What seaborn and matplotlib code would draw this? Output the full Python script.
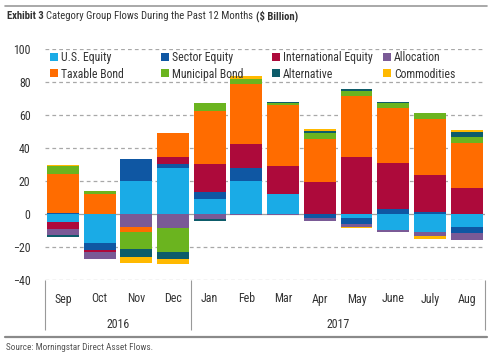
import numpy as np
import matplotlib
matplotlib.use('Agg')
import matplotlib.pyplot as plt
from matplotlib.patches import Patch
from matplotlib import font_manager
import seaborn as sns

# Monthly flows by category group ($ billion)
months = ['Sep', 'Oct', 'Nov', 'Dec', 'Jan', 'Feb', 'Mar', 'Apr', 'May', 'June', 'July', 'Aug']
years = ['2016', '2017']
us_equity = [-4.9, -17.8, 19.8, 27.7, 8.9, 20.0, 11.9, 0.0, -2.2, -9.5, -10.7, -8.1]
sector_equity = [0.4, -4.0, 13.7, 2.4, 4.4, 8.1, 0.0, -2.6, -3.8, 2.8, 1.2, -3.6]
international_equity = [-4.4, -1.4, 0.0, 4.6, 17.0, 14.3, 17.2, 19.6, 34.7, 28.3, 22.6, 15.6]
allocation = [-3.6, -3.9, -7.7, -8.7, -2.8, -0.8, -0.5, -1.6, -1.6, -1.4, -2.6, -4.1]
taxable_bond = [23.8, 11.9, -3.0, 14.6, 32.1, 36.4, 37.0, 26.0, 37.0, 33.0, 34.0, 27.2]
municipal_bond = [5.0, 2.2, -10.3, -14.1, 4.7, 2.8, 1.0, 3.5, 3.0, 3.1, 3.4, 4.0]
alternative = [-1.0, 0.0, -4.8, -4.4, -1.4, 0.0, 0.6, 1.5, 1.3, 0.8, 0.0, 2.7]
commodities = [0.6, 0.0, -4.0, -3.2, 0.0, 2.0, 0.0, 0.8, -0.6, 0.0, -2.0, 1.5]

flows = {
    'U.S. Equity': us_equity,
    'Sector Equity': sector_equity,
    'International Equity': international_equity,
    'Allocation': allocation,
    'Taxable Bond': taxable_bond,
    'Municipal Bond': municipal_bond,
    'Alternative': alternative,
    'Commodities': commodities,
}
palette = {
    'U.S. Equity': '#1aabe6',
    'Sector Equity': '#0f57a3',
    'International Equity': '#ad0a3b',
    'Allocation': '#7a5a96',
    'Taxable Bond': '#ff6c00',
    'Municipal Bond': '#6bb41f',
    'Alternative': '#0d5c6a',
    'Commodities': '#ffb900',
}

# stacking order differs above / below zero in the original
pos_order = ['U.S. Equity', 'Sector Equity', 'International Equity', 'Taxable Bond',
             'Municipal Bond', 'Alternative', 'Allocation', 'Commodities']
neg_order = ['U.S. Equity', 'Sector Equity', 'International Equity', 'Allocation',
             'Taxable Bond', 'Municipal Bond', 'Alternative', 'Commodities']

sns.set_theme(style='white')
# pick a condensed face if one is installed
installed = {f.name for f in font_manager.fontManager.ttflist}
narrow = [f for f in ['Roboto Condensed', 'Liberation Sans Narrow', 'Arial Narrow'] if f in installed]
plt.rcParams['font.family'] = narrow + ['Roboto', 'DejaVu Sans']
scale = 1.0 if narrow else 0.84

fig = plt.figure(figsize=(4.92, 3.55), dpi=100)
ax = fig.add_axes([44.5 / 492, 1 - 280 / 355, 440.5 / 492, 231 / 355])


def draw_stack(order, sign):
    cum = np.zeros(len(months))
    tops = []
    for name in order:
        v = np.array(flows[name])
        cum = cum + np.where(np.sign(v) == sign, v, 0.0)
        tops.append((name, cum.copy()))
    # draw tallest first so each lower segment sits on top of it
    for name, top in reversed(tops):
        sns.barplot(x=months, y=top, order=months, color=palette[name], saturation=1,
                    width=0.87, errorbar=None, linewidth=0, ax=ax, zorder=2)


draw_stack(pos_order, 1)
draw_stack(neg_order, -1)

ax.set_xlim(-0.5, 11.5)
ax.set_ylim(-40, 100)
ax.set_yticks(range(-40, 101, 20))
ax.set_xlabel('')
ax.set_ylabel('')
for s in ax.spines.values():
    s.set_visible(False)
for y in range(-40, 101, 20):
    if y == 0:
        ax.axhline(y, color='#a0a0a0', lw=0.9, zorder=1)
    else:
        ax.axhline(y, color='#a8a8a8', lw=0.9, ls=(0, (3, 2.5)), zorder=1)
tick_fs = 8.6 * scale
ax.tick_params(axis='y', length=0, pad=10, labelsize=tick_fs, labelcolor='#333333')
ax.tick_params(axis='x', length=0, pad=9, labelsize=tick_fs, labelcolor='#333333')

# year dividers and year labels under the month labels
div = ax.secondary_xaxis('bottom')
div.set_xticks([-0.5, 3.5, 11.5])
div.set_xticklabels([])
div.tick_params(length=36, width=0.8, color='#999999')
for s in div.spines.values():
    s.set_visible(False)

yr = ax.secondary_xaxis('bottom')
yr.set_xticks([1.5, 7.5])
yr.set_xticklabels(years)
yr.tick_params(length=0, pad=27, labelsize=tick_fs, labelcolor='#333333')
for s in yr.spines.values():
    s.set_visible(False)

# legend: four fixed-width columns of two entries
cols = [['U.S. Equity', 'Taxable Bond'], ['Sector Equity', 'Municipal Bond'],
        ['International Equity', 'Alternative'], ['Allocation', 'Commodities']]
col_x = [50, 161, 272, 383]
for i, (names, px) in enumerate(zip(cols, col_x)):
    handles = [Patch(facecolor=palette[n], edgecolor='none') for n in names]
    leg = ax.legend(handles, names, loc='upper left',
                    bbox_to_anchor=((px - 44.5) / 440.5, (280 - 51) / 231),
                    frameon=False, fontsize=8.5 * scale, handlelength=0.65, handleheight=0.65,
                    handletextpad=0.3, labelspacing=0.3, borderpad=0, borderaxespad=0)
    for t in leg.get_texts():
        t.set_color('#333333')
    if i < len(cols) - 1:
        ax.add_artist(leg)

# title built from bold and regular pieces
renderer = fig.canvas.get_renderer()
x = 7 / 492
for txt, weight in [('Exhibit 3 ', 'bold'), ('Category Group Flows During the Past 12 Months ', 'normal'),
                    ('($ Billion)', 'bold')]:
    t = fig.text(x, 1 - 16 / 355, txt, fontsize=7.7 * scale, fontweight=weight, color='#333333',
                 va='center', ha='left')
    bb = t.get_window_extent(renderer=renderer)
    x += bb.width / fig.bbox.width

fig.add_artist(plt.Line2D([5 / 492, 487 / 492], [1 - 6 / 355, 1 - 6 / 355], color='#9a9a9a', lw=1.2))
fig.add_artist(plt.Line2D([5 / 492, 487 / 492], [1 - 337 / 355, 1 - 337 / 355], color='#8a8a8a', lw=1.6))
fig.text(6 / 492, 1 - 347 / 355, 'Source: Morningstar Direct Asset Flows.', fontsize=6.7 * scale,
         color='#555555', va='center', ha='left')

fig.savefig('out.png', dpi=100)
